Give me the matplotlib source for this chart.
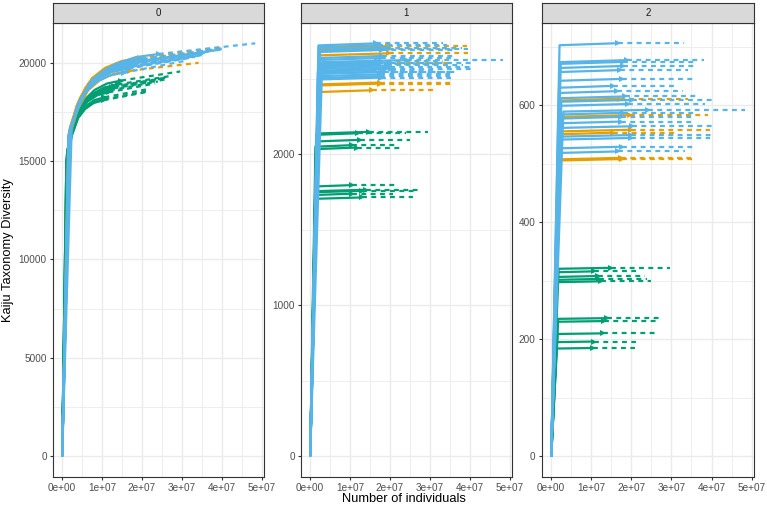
import numpy as np
import matplotlib.pyplot as plt

plt.rcParams['font.family'] = ['Liberation Sans', 'DejaVu Sans']

# sample sizes (number of individuals), same samples in every panel
green_n = [1.48e7, 1.39e7, 1.31e7, 1.29e7, 1.25e7, 1.20e7, 1.165e7, 1.06e7, 1.06e7, 1.04e7]
orange_n = [1.96e7, 1.98e7, 1.71e7, 1.75e7, 1.76e7, 1.54e7]
blue_n = [1.66e7, 1.90e7, 1.80e7, 1.79e7, 1.77e7, 1.54e7, 1.64e7, 2.02e7, 1.92e7, 2.42e7,
          1.78e7, 1.75e7, 1.75e7, 2.02e7, 2.00e7, 1.98e7, 1.77e7, 1.67e7, 1.71e7, 1.85e7]

# panel 0: observed diversity and extrapolated value at 2n
green_obs0 = [19100, 18900, 18800, 18700, 18750, 18600, 18500, 18250, 18150, 18100]
green_ext0 = [19560, 19350, 19250, 19150, 19200, 19050, 18950, 18650, 18550, 18500]
orange_obs0 = [20250, 20200, 19600, 20000, 19950, 19750]
orange_ext0 = [20780, 20750, 20000, 20500, 20450, 20250]
blue_obs0 = [19750, 20050, 19950, 19900, 19880, 19500, 19700, 20200, 20080, 20450,
             19920, 19850, 19800, 20150, 20120, 20100, 19860, 19720, 19800, 19980]
blue_ext0 = [20330, 20620, 20520, 20480, 20460, 20100, 20290, 20740, 20640, 20990,
             20500, 20430, 20390, 20710, 20690, 20670, 20450, 20310, 20380, 20560]

# panel 1 and 2: curves are flat after saturation
green_obs1 = [2150, 1766, 1759, 1715, 2097, 2141, 2046, 2062, 1797, 1740]
orange_obs1 = [2719, 2671, 2609, 2477, 2470, 2426]
blue_obs1 = [2737, 2708, 2693, 2653, 2640, 2560, 2600, 2569, 2591, 2626,
             2547, 2532, 2520, 2610, 2580, 2700, 2510, 2620, 2725, 2550]

green_obs2 = [322, 236, 231, 210, 299, 303, 308, 316, 196, 185]
orange_obs2 = [583, 558, 611, 510, 508, 553]
blue_obs2 = [706, 677, 674, 667, 645, 633, 624, 609, 602, 592,
             587, 580, 572, 564, 549, 544, 529, 521, 660, 615]

shape0_frac = [0, 0.1, 0.23, 0.38, 0.55, 0.76, 1.0]
shape0_val = [0, 0.826, 0.9, 0.949, 0.975, 0.992, 1.0]
flat_frac = [0, 0.125, 1.0]
flat_val = [0, 0.995, 1.0]

facet_labels = ['0', '1', '2']
x_ticks = [0, 1e7, 2e7, 3e7, 4e7, 5e7]
y_ticks = [[0, 5000, 10000, 15000, 20000], [0, 1000, 2000], [0, 200, 400, 600]]
y_minor = [[2500, 7500, 12500, 17500], [500, 1500, 2500], [100, 300, 500, 700]]
y_lims = [(-1050, 22040), (-137, 2874), (-35, 741)]

GREEN, ORANGE, BLUE = '#009E73', '#E69F00', '#56B4E9'

W, H = 767, 509
fig = plt.figure(figsize=(W / 100, H / 100), dpi=100)


def box(l, t, r, b):
    return [l / W, 1 - b / H, (r - l) / W, (b - t) / H]


def draw_group(ax, ns, obs, ext, color, frac, val):
    for n, s, e in zip(ns, obs, ext):
        ax.plot(np.array(frac) * n, np.array(val) * s, color=color, lw=1.6,
                solid_capstyle='butt', solid_joinstyle='round')
        ax.plot([n, 2 * n], [s, e], color=color, lw=1.6, ls=(0, (2.2, 2.0)),
                dash_capstyle='butt')
        ax.plot([n], [s], marker='>', ms=5, color=color, mew=0)


panels = [(53, 264), (301, 512), (542, 754)]
data = [
    [(green_n, green_obs0, green_ext0, GREEN), (orange_n, orange_obs0, orange_ext0, ORANGE),
     (blue_n, blue_obs0, blue_ext0, BLUE)],
    [(green_n, green_obs1, green_obs1, GREEN), (orange_n, orange_obs1, orange_obs1, ORANGE),
     (blue_n, blue_obs1, blue_obs1, BLUE)],
    [(green_n, green_obs2, green_obs2, GREEN), (orange_n, orange_obs2, orange_obs2, ORANGE),
     (blue_n, blue_obs2, blue_obs2, BLUE)],
]

for i, (l, r) in enumerate(panels):
    ax = fig.add_axes(box(l, 22.7, r, 476.7))
    frac, val = (shape0_frac, shape0_val) if i == 0 else (flat_frac, flat_val)
    for ns, obs, ext, col in data[i]:
        draw_group(ax, ns, obs, ext, col, frac, val)

    ax.set_xlim(-2.3e6, 5.06e7)
    ax.set_ylim(*y_lims[i])
    ax.set_xticks(x_ticks)
    ax.set_xticklabels([format(v, '.0e') for v in x_ticks])
    ax.set_xticks([5e6, 1.5e7, 2.5e7, 3.5e7, 4.5e7], minor=True)
    ax.set_yticks(y_ticks[i])
    ax.set_yticklabels([str(v) for v in y_ticks[i]])
    ax.set_yticks(y_minor[i], minor=True)
    ax.set_axisbelow(True)
    ax.grid(which='major', color='#EBEBEB', lw=1.0)
    ax.grid(which='minor', color='#EBEBEB', lw=0.6)
    ax.tick_params(which='major', length=2.5, width=0.8, color='#333333',
                   labelcolor='#4D4D4D', labelsize=7.2, pad=2)
    ax.tick_params(which='minor', length=0)
    for sp in ax.spines.values():
        sp.set_color('#333333')
        sp.set_linewidth(0.8)

    strip = fig.add_axes(box(l, 3.3, r, 22.7))
    strip.set_facecolor('#D9D9D9')
    strip.set_xticks([])
    strip.set_yticks([])
    for sp in strip.spines.values():
        sp.set_color('#333333')
        sp.set_linewidth(0.8)
    strip.text(0.5, 0.5, facet_labels[i], ha='center', va='center',
               fontsize=7, color='#1A1A1A', transform=strip.transAxes)

fig.text(8 / W, 1 - 249.7 / H, 'Kaiju Taxonomy Diversity', rotation=90,
         ha='center', va='center', fontsize=9.3)
fig.text(403.5 / W, 1 - 499 / H, 'Number of individuals',
         ha='center', va='center', fontsize=9.3)

fig.savefig('out.png', dpi=100)
